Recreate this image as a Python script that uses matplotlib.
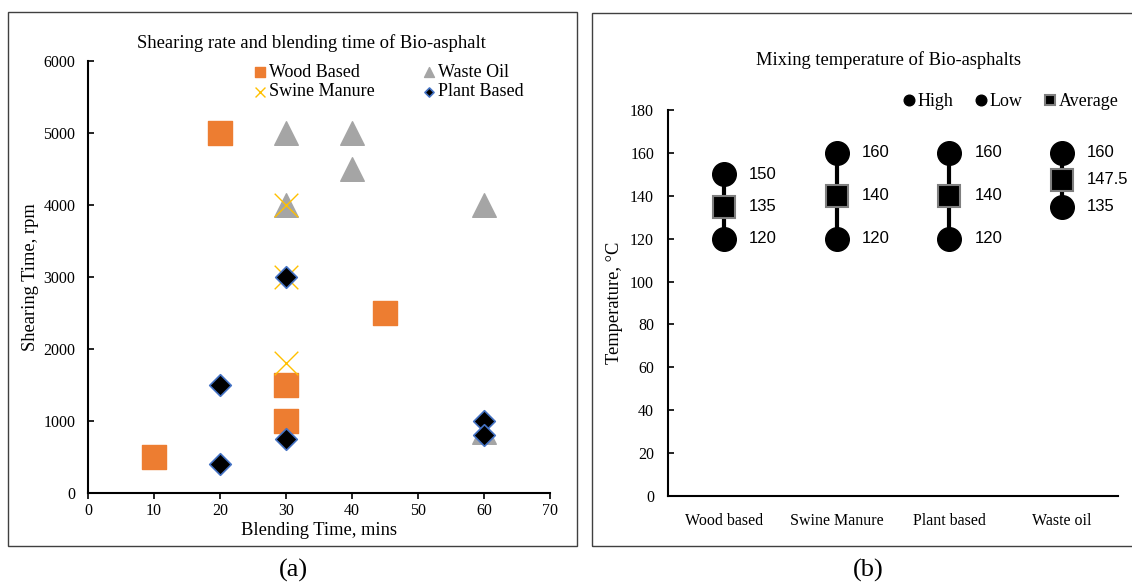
import matplotlib
matplotlib.use("Agg")
import matplotlib.pyplot as plt
from matplotlib.patches import Rectangle

plt.rcParams['font.family'] = ['Liberation Serif', 'DejaVu Serif']

# (a) blending time vs shearing rate
wood_x = [20, 45, 30, 30, 10]
wood_y = [5000, 2500, 1500, 1000, 500]
waste_x = [30, 40, 40, 30, 60, 60]
waste_y = [5000, 5000, 4500, 4000, 4000, 850]
swine_x = [30, 30, 30]
swine_y = [4000, 3000, 1800]
plant_x = [30, 20, 30, 20, 60, 60]
plant_y = [3000, 1500, 750, 400, 1000, 800]

# (b) mixing temperature
categories = ['Wood based', 'Swine Manure', 'Plant based', 'Waste oil']
high = [150, 160, 160, 160]
low = [120, 120, 120, 135]
average = [135, 140, 140, 147.5]

W, H = 1132, 584
fig = plt.figure(figsize=(W / 100, H / 100), dpi=100)

def fx(px):
    return px / W

def fy(py):
    return 1 - py / H

# panel frames
fig.patches.append(Rectangle((fx(8), fy(546)), fx(577) - fx(8), fy(12) - fy(546),
                             transform=fig.transFigure, fill=False, edgecolor='#404040', lw=1))
fig.patches.append(Rectangle((fx(592), fy(546)), fx(1140) - fx(592), fy(13) - fy(546),
                             transform=fig.transFigure, fill=False, edgecolor='#404040', lw=1))

# ---------- (a) ----------
ax1 = fig.add_axes([fx(88), fy(493), fx(550) - fx(88), fy(61) - fy(493)])
ax1.scatter(wood_x, wood_y, marker='s', s=17**2, color='#ED7D31', label='Wood Based', zorder=2)
ax1.scatter(waste_x, waste_y, marker='^', s=17**2, color='#A5A5A5', label='Waste Oil', zorder=3)
ax1.scatter(swine_x, swine_y, marker='x', s=17**2, color='#FFC000', linewidths=1, label='Swine Manure', zorder=4)
ax1.scatter(plant_x, plant_y, marker='D', s=11**2, color='black', edgecolors='#4472C4',
            linewidths=1.2, label='Plant Based', zorder=5)
ax1.set_xlim(0, 70)
ax1.set_ylim(0, 6000)
ax1.set_xticks(range(0, 71, 10))
ax1.set_yticks(range(0, 6001, 1000))
for s in ['top', 'right']:
    ax1.spines[s].set_visible(False)
for s in ['left', 'bottom']:
    ax1.spines[s].set_linewidth(1.5)
ax1.tick_params(labelsize=11.5, width=1.2, length=4)
ax1.tick_params(axis='y', direction='in', pad=9)
ax1.set_xlabel('Blending Time, mins', fontsize=13.3, labelpad=2)
ax1.set_ylabel('Shearing Time, rpm', fontsize=13.3, labelpad=3)

h, l = ax1.get_legend_handles_labels()
order = [0, 2, 1, 3]
ax1.legend([h[i] for i in order], [l[i] for i in order], ncol=2, frameon=False,
           fontsize=13, markerscale=0.42, handletextpad=0.1, columnspacing=2.6,
           labelspacing=0.15, handlelength=0.8,
           loc='center', bbox_to_anchor=(fx(388), fy(82)), bbox_transform=fig.transFigure)

fig.text(fx(311), fy(43), 'Shearing rate and blending time of Bio-asphalt',
         ha='center', va='center', fontsize=13.4)

# ---------- (b) ----------
ax2 = fig.add_axes([fx(668), fy(496), fx(1118) - fx(668), fy(110) - fy(496)])
xpos = list(range(len(categories)))
ax2.vlines(xpos, low, high, color='black', lw=3, zorder=1)
ax2.plot(xpos, high, 'o', ms=17, color='black', ls='none', label='High', zorder=3)
ax2.plot(xpos, low, 'o', ms=17, color='black', ls='none', label='Low', zorder=3)
ax2.plot(xpos, average, 's', ms=16, color='black', mec='#7f7f7f', mew=1.5, ls='none',
         label='Average', zorder=4)
for series in (high, low, average):
    for x, v in zip(xpos, series):
        txt = f'{v:g}'
        ax2.annotate(txt, (x, v), xytext=(18, 0), textcoords='offset points',
                     ha='left', va='center', fontsize=12, family=['Liberation Sans', 'DejaVu Sans'])
ax2.set_xlim(-0.5, 3.5)
ax2.set_ylim(0, 180)
ax2.set_yticks(range(0, 181, 20))
ax2.set_xticks(xpos)
ax2.set_xticklabels(categories)
for s in ['top', 'right']:
    ax2.spines[s].set_visible(False)
for s in ['left', 'bottom']:
    ax2.spines[s].set_linewidth(1.5)
ax2.tick_params(axis='y', labelsize=11.5, width=1.2, length=4, direction='in', pad=10)
ax2.tick_params(axis='x', labelsize=11.5, length=0, pad=12)
ax2.set_ylabel('Temperature, \u00b0C', fontsize=13.3, labelpad=5)

ax2.legend(ncol=3, frameon=False, fontsize=13, markerscale=0.45, handletextpad=0.0,
           columnspacing=1.0, handlelength=1.0,
           loc='center', bbox_to_anchor=(fx(1009), fy(102)), bbox_transform=fig.transFigure)

fig.text(fx(888), fy(60), 'Mixing temperature of Bio-asphalts', ha='center', va='center', fontsize=13.3)

fig.text(fx(293), fy(570), '(a)', ha='center', va='center', fontsize=19)
fig.text(fx(868), fy(570), '(b)', ha='center', va='center', fontsize=19)

fig.savefig('out.png', dpi=100)
